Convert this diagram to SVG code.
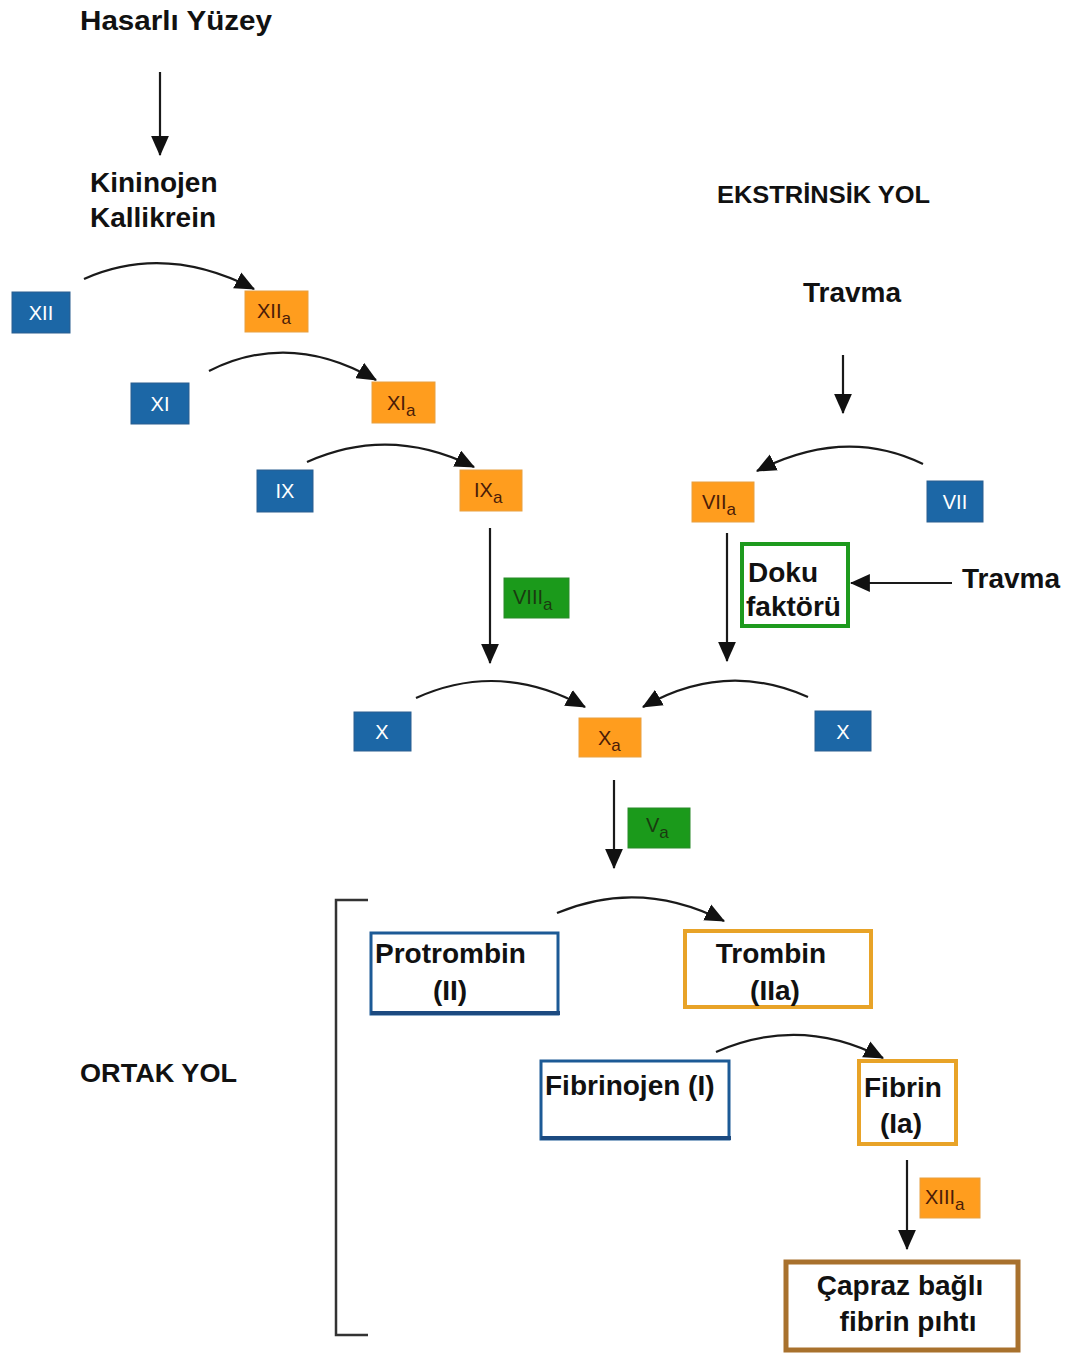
<svg xmlns="http://www.w3.org/2000/svg" width="1075" height="1356" viewBox="0 0 1075 1356">
<defs>
<marker id="ah" markerUnits="userSpaceOnUse" markerWidth="20" markerHeight="18" refX="17" refY="8" orient="auto" viewBox="0 0 18 16">
<path d="M0,0 L18,8 L0,16 z" fill="#111"/>
</marker>
</defs>
<style>
text{font-family:"Liberation Sans",Arial,sans-serif;}
.t{font-weight:bold;font-size:28px;fill:#111;}
.blue{fill:#1c67a6;stroke:#2a5f90;stroke-width:1;}
.org{fill:#ff9d1e;stroke:#e8a040;stroke-width:1;}
.grn{fill:#1b9a1b;stroke:#2a8a2a;stroke-width:1;}
.wt{fill:#fff;font-size:20px;text-anchor:middle;}
.ot{fill:#4a1c08;font-size:20px;}
.gt{fill:#1a3a10;font-size:20px;}
.sub{font-size:17px;}
.c{fill:none;stroke:#1a1a1a;stroke-width:2.2;marker-end:url(#ah);}
</style>
<rect width="1075" height="1356" fill="#fff"/>

<g id="labels">
<text class="t" x="80" y="30" textLength="192" lengthAdjust="spacingAndGlyphs">Hasarlı Yüzey</text>
<text class="t" x="90" y="192">Kininojen</text>
<text class="t" x="90" y="227">Kallikrein</text>
<text class="t" x="717" y="203" font-size="24" textLength="213" lengthAdjust="spacingAndGlyphs" style="font-size:24px">EKSTRİNSİK YOL</text>
<text class="t" x="803" y="302">Travma</text>
<text class="t" x="962" y="588">Travma</text>
<text class="t" x="80" y="1082" textLength="157" lengthAdjust="spacingAndGlyphs" style="font-size:26px">ORTAK YOL</text>
</g>

<g id="n-XII"><rect class="blue" x="12" y="292" width="58" height="41"/><text class="wt" x="41" y="320">XII</text></g>
<g id="n-XIIa"><rect class="org" x="245" y="291" width="63" height="41"/><text class="ot" x="257" y="318">XII<tspan class="sub" dy="6">a</tspan></text></g>
<g id="n-XI"><rect class="blue" x="131" y="383" width="58" height="41"/><text class="wt" x="160" y="411">XI</text></g>
<g id="n-XIa"><rect class="org" x="372" y="382" width="63" height="41"/><text class="ot" x="387" y="410">XI<tspan class="sub" dy="6">a</tspan></text></g>
<g id="n-IX"><rect class="blue" x="257" y="470" width="56" height="42"/><text class="wt" x="285" y="498">IX</text></g>
<g id="n-IXa"><rect class="org" x="460" y="470" width="62" height="41"/><text class="ot" x="474" y="497">IX<tspan class="sub" dy="6">a</tspan></text></g>
<g id="n-VIIa"><rect class="org" x="692" y="482" width="62" height="40"/><text class="ot" x="702" y="509">VII<tspan class="sub" dy="6">a</tspan></text></g>
<g id="n-VII"><rect class="blue" x="927" y="481" width="56" height="41"/><text class="wt" x="955" y="509">VII</text></g>
<g id="n-VIIIa"><rect class="grn" x="504" y="578" width="65" height="40"/><text class="gt" x="513" y="604">VIII<tspan class="sub" dy="6">a</tspan></text></g>
<g id="n-doku"><rect x="742" y="544" width="106" height="82" fill="#fff" stroke="#1e9a1e" stroke-width="4"/><text class="t" x="748" y="582">Doku</text><text class="t" x="746" y="616">faktörü</text></g>
<g id="n-XL"><rect class="blue" x="354" y="712" width="57" height="39"/><text class="wt" x="382" y="739">X</text></g>
<g id="n-Xa"><rect class="org" x="579" y="718" width="62" height="39"/><text class="ot" x="598" y="745">X<tspan class="sub" dy="6">a</tspan></text></g>
<g id="n-XR"><rect class="blue" x="815" y="711" width="56" height="40"/><text class="wt" x="843" y="739">X</text></g>
<g id="n-Va"><rect class="grn" x="628" y="808" width="62" height="40"/><text class="gt" x="646" y="832">V<tspan class="sub" dy="6">a</tspan></text></g>

<g id="bracket"><path d="M368,900 H336 V1335 H368" fill="none" stroke="#333" stroke-width="2.5"/></g>

<g id="n-protrombin"><rect x="371" y="933" width="187" height="81" fill="#fff" stroke="#1c5a96" stroke-width="3"/><line x1="371" y1="1013" x2="560" y2="1013" stroke="#1c4a80" stroke-width="4"/><text class="t" x="375" y="963">Protrombin</text><text class="t" x="450" y="1000" text-anchor="middle">(II)</text></g>
<g id="n-trombin"><rect x="685" y="931" width="186" height="76" fill="#fff" stroke="#e8a328" stroke-width="4"/><text class="t" x="771" y="963" text-anchor="middle">Trombin</text><text class="t" x="775" y="1000" text-anchor="middle">(IIa)</text></g>
<g id="n-fibrinojen"><rect x="541" y="1061" width="188" height="78" fill="#fff" stroke="#1c5a96" stroke-width="3"/><line x1="541" y1="1138" x2="731" y2="1138" stroke="#1c4a80" stroke-width="4"/><text class="t" x="545" y="1095">Fibrinojen (I)</text></g>
<g id="n-fibrin"><rect x="859" y="1061" width="97" height="83" fill="#fff" stroke="#e8a328" stroke-width="4"/><text class="t" x="864" y="1097">Fibrin</text><text class="t" x="901" y="1133" text-anchor="middle">(Ia)</text></g>
<g id="n-XIIIa"><rect class="org" x="920" y="1178" width="60" height="40"/><text class="ot" x="925" y="1204">XIII<tspan class="sub" dy="6">a</tspan></text></g>
<g id="n-capraz"><rect x="786" y="1262" width="232" height="88" fill="#fff" stroke="#a8712d" stroke-width="5"/><text class="t" x="900" y="1295" text-anchor="middle">Çapraz bağlı</text><text class="t" x="908" y="1331" text-anchor="middle">fibrin pıhtı</text></g>

<g id="connectors">
<line class="c" x1="160" y1="72" x2="160" y2="155"/>
<line class="c" x1="843" y1="355" x2="843" y2="413"/>
<path class="c" d="M84,279 Q165,243 254,289"/>
<path class="c" d="M209,371 Q290,330 376,380"/>
<path class="c" d="M307,462 Q390,425 474,467"/>
<path class="c" d="M923,464 Q845,426 757,471"/>
<line class="c" x1="490" y1="528" x2="490" y2="663"/>
<line class="c" x1="727" y1="533" x2="727" y2="661"/>
<line class="c" x1="952" y1="583" x2="851" y2="583"/>
<path class="c" d="M416,698 Q500,660 585,707"/>
<path class="c" d="M808,697 Q725,660 643,707"/>
<line class="c" x1="614" y1="780" x2="614" y2="868"/>
<path class="c" d="M557,913 Q640,878 724,921"/>
<path class="c" d="M716,1052 Q800,1015 883,1058"/>
<line class="c" x1="907" y1="1160" x2="907" y2="1249"/>
</g>
</svg>
